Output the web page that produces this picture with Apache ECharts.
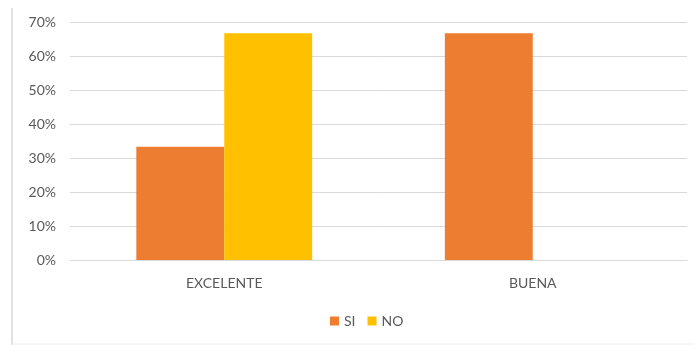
<!DOCTYPE html>
<html>
<head>
<meta charset="utf-8">
<style>
  html, body { margin: 0; padding: 0; background: #ffffff; }
  #chart { width: 694px; height: 345px; }
</style>
<script src="https://cdn.jsdelivr.net/npm/echarts@6/dist/echarts.min.js"></script>
</head>
<body>
<div id="chart"></div>
<script>
// Survey results by rating
const categories = ['EXCELENTE', 'BUENA'];
const siValues = [0.333, 0.667];
const noValues = [0.667, 0];
const seriesNames = ['SI', 'NO'];
const yTicks = [0, 0.1, 0.2, 0.3, 0.4, 0.5, 0.6, 0.7];

const chart = echarts.init(document.getElementById('chart'), null, { renderer: 'canvas' });
const font = 'Lato, "Open Sans", sans-serif';

chart.setOption({
  animation: false,
  backgroundColor: '#ffffff',
  grid: { left: 70, right: 7, top: 22, bottom: 85 },
  legend: {
    data: seriesNames,
    top: 309,
    left: 325,
    itemWidth: 9,
    itemHeight: 9,
    itemGap: 12,
    icon: 'rect',
    textStyle: { color: '#595959', fontSize: 14, fontFamily: font }
  },
  xAxis: {
    type: 'category',
    data: categories,
    axisLine: { lineStyle: { color: '#d9d9d9' } },
    axisTick: { show: false },
    axisLabel: { color: '#595959', fontSize: 14, fontFamily: font, margin: 16 }
  },
  yAxis: {
    type: 'value',
    min: yTicks[0],
    max: yTicks[yTicks.length - 1],
    interval: 0.1,
    axisLine: { show: false },
    axisTick: { show: false },
    splitLine: { lineStyle: { color: '#d9d9d9' } },
    axisLabel: {
      color: '#595959', fontSize: 14, fontFamily: font, margin: 14,
      formatter: v => Math.round(v * 100) + '%'
    }
  },
  series: [
    {
      name: seriesNames[0], type: 'bar', data: siValues,
      itemStyle: { color: '#ED7D31' },
      barGap: '0%', barCategoryGap: '43%'
    },
    {
      name: seriesNames[1], type: 'bar', data: noValues,
      itemStyle: { color: '#FFC000' },
      barGap: '0%', barCategoryGap: '43%'
    }
  ],
  graphic: [
    { type: 'line', shape: { x1: 12, y1: 8, x2: 12, y2: 345 }, style: { stroke: '#d9d9d9', lineWidth: 1.5 } },
    { type: 'line', shape: { x1: 12, y1: 344, x2: 694, y2: 344 }, style: { stroke: '#eeeeee', lineWidth: 1 } }
  ]
});
</script>
</body>
</html>
